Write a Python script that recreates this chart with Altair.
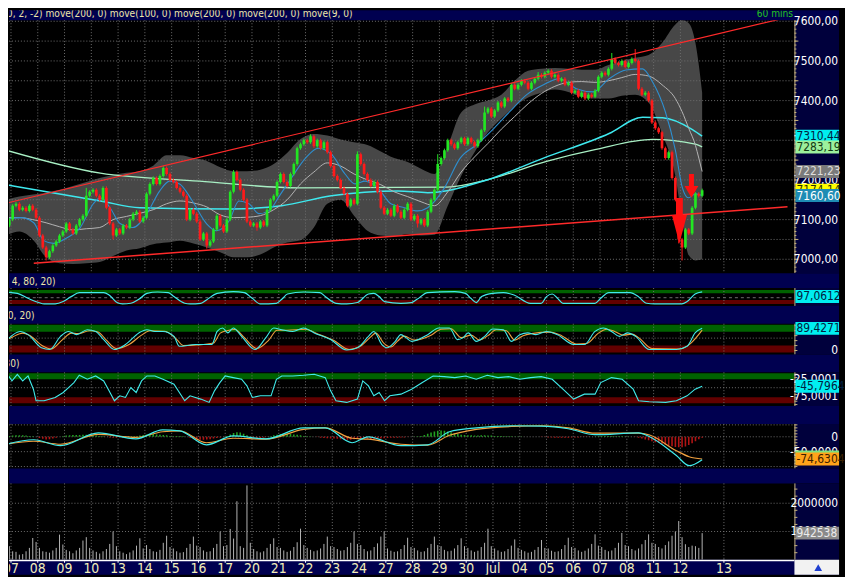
import altair as alt
import pandas as pd

# ------------------------------------------------------------------
# DATA  (x = bar index, 8 hourly bars per trading day, bar 0 = first bar of "07")
# ------------------------------------------------------------------
first_bar = -2
day_labels = ["07", "08", "09", "10", "13", "14", "15", "16", "17", "20", "21", "22", "23",
              "24", "27", "28", "29", "30", "Jul", "04", "05", "06", "07", "08", "11", "12", "13"]
day_pos = [-0.5, 7.5, 15.5, 23.5, 31.5, 39.5, 47.5, 55.5, 63.5, 71.5, 79.5, 87.5, 95.5,
           103.5, 111.5, 119.5, 127.5, 135.5, 143.5, 151.5, 159.5, 167.5, 175.5, 183.5,
           191.5, 199.5, 212.5]

first_open = 7075
close = [7085, 7100,
         7135, 7140, 7125, 7130, 7122, 7135, 7125, 7105,
         7060, 7030, 7005, 7020, 7035, 7045, 7060, 7070,
         7090, 7075, 7065, 7085, 7100, 7110, 7160, 7170,
         7175, 7160, 7150, 7180, 7130, 7090, 7060, 7075,
         7065, 7085, 7080, 7100, 7115, 7120, 7095, 7105,
         7165, 7190, 7205, 7190, 7210, 7230, 7215, 7200,
         7195, 7180, 7170, 7160, 7100, 7125, 7115, 7095,
         7050, 7065, 7035, 7045, 7075, 7110, 7085, 7070,
         7100, 7170, 7220, 7200, 7175, 7150, 7095, 7085,
         7090, 7080, 7095, 7085, 7125, 7150, 7160, 7195,
         7215, 7195, 7185, 7215, 7240, 7280, 7290, 7300,
         7295, 7310, 7285, 7300, 7280, 7295, 7270, 7235,
         7210, 7200, 7180, 7165, 7135, 7150, 7140, 7265,
         7240, 7215, 7200, 7185, 7195, 7170, 7130, 7115,
         7125, 7110, 7135, 7120, 7105, 7125, 7140, 7100,
         7110, 7090, 7100, 7085, 7120, 7150, 7175, 7240,
         7255, 7275, 7300, 7290, 7280, 7295, 7305, 7290,
         7305, 7295, 7285, 7300, 7325, 7370, 7380, 7360,
         7375, 7395, 7385, 7405, 7400, 7440, 7430, 7440,
         7450, 7445, 7430, 7445, 7455, 7465, 7460, 7470,
         7475, 7460, 7465, 7450, 7455, 7440, 7445, 7420,
         7425, 7410, 7420, 7405, 7415, 7410, 7425, 7460,
         7470, 7465, 7480, 7505, 7495, 7490, 7500, 7485,
         7495, 7505, 7500, 7430, 7415, 7420, 7400, 7345,
         7330, 7320, 7280, 7255, 7270, 7205, 7150, 7050,
         7030, 7075, 7065, 7130, 7165, 7160, 7174.14]

wick = 4
high_marks = [(22, 7180), (45, 7235), (66, 7225), (89, 7315), (103, 7272), (127, 7265),
              (141, 7385), (157, 7472), (179, 7520), (186, 7530)]
low_marks = [(10, 6997), (30, 7050), (58, 7027), (73, 7072), (121, 7080), (199, 7040), (200, 6997)]

volume_k = [710, 480,
            300, 280, 180, 200, 300, 420, 770, 630,
            420, 300, 280, 250, 330, 420, 890, 540,
            350, 300, 230, 330, 420, 680, 800, 420,
            330, 280, 220, 300, 380, 560, 1000, 480,
            300, 250, 200, 260, 330, 500, 760, 400,
            520, 380, 300, 280, 350, 600, 850, 450,
            400, 300, 250, 270, 420, 560, 820, 500,
            450, 330, 280, 300, 420, 560, 1000, 480,
            520, 1090, 750, 2070, 480, 420, 2630, 600,
            380, 300, 260, 300, 420, 560, 760, 450,
            420, 330, 280, 320, 450, 620, 1100, 520,
            420, 350, 300, 330, 400, 560, 820, 480,
            450, 380, 320, 340, 450, 600, 1000, 560,
            520, 380, 300, 330, 450, 580, 820, 1000,
            400, 320, 280, 300, 380, 520, 780, 450,
            420, 330, 280, 300, 420, 560, 820, 520,
            480, 350, 300, 320, 400, 520, 760, 480,
            420, 330, 280, 320, 450, 600, 1100, 480,
            400, 330, 280, 300, 380, 500, 720, 420,
            350, 300, 250, 280, 350, 450, 700, 420,
            400, 320, 280, 300, 380, 520, 780, 450,
            420, 330, 280, 320, 400, 560, 900, 500,
            450, 350, 300, 330, 420, 600, 950, 520,
            480, 380, 330, 400, 550, 700, 900, 600,
            560, 450, 400, 520, 650, 850, 1000, 1370,
            800, 550, 450, 500, 480, 420, 942.538]

macd_hist = [2, 3,
             4, 5, 5, 5, 4, 3, 2, 0,
             -4, -7, -9, -8, -6, -3, 0, 2,
             4, 5, 6, 6, 6, 7, 7, 6,
             5, 4, 3, 2, 0, -2, -3, -3,
             -2, -1, 0, 1, 2, 3, 4, 6,
             8, 9, 9, 8, 7, 6, 5, 3,
             2, 3, 3, 2, 0, -3, -6, -8,
             -10, -10, -9, -8, -6, -4, -2, 0,
             3, 8, 13, 15, 14, 10, 5, 1,
             -2, -4, -4, -3, -1, 2, 5, 7,
             9, 10, 10, 9, 8, 7, 5, 3,
             2, 1, 0, -1, -3, -4, -5, -6,
             -6, -7, -8, -9, -10, -10, -8, -6,
             -5, -6, -7, -8, -8, -7, -6, -5,
             -4, -3, -3, -3, -2, -2, -1, 0,
             1, 2, 3, 6, 10, 14, 18, 20,
             21, 20, 18, 15, 12, 9, 7, 6,
             5, 5, 4, 4, 5, 5, 4, 4,
             3, 3, 3, 2, 2, 2, 1, 1,
             1, 0, 0, 0, 0, 0, -1, -1,
             -2, -2, -3, -3, -3, -3, -3, -2,
             -2, -2, -1, -1, -1, 0, 1, 2,
             3, 3, 3, 3, 2, 2, 2, 1,
             1, 0, -1, -3, -6, -9, -12, -15,
             -18, -21, -24, -27, -30, -32, -34, -35,
             -35, -33, -28, -22, -15, -8, -3]

# Bollinger (20, 2, -2)
bb_u = [-2, 2, 6, 10, 14, 18, 22, 26, 30, 34, 38, 42, 46, 50, 54, 58, 62, 66, 70, 74, 78, 82,
        86, 90, 94, 98, 102, 106, 110, 114, 118, 122, 126, 130, 134, 138, 142, 146, 150, 154,
        158, 162, 166, 170, 174, 178, 182, 186, 190, 194, 198, 200, 202, 204, 205, 206]
bb_upper = [7150, 7158, 7163, 7168, 7175, 7185, 7195, 7205, 7212, 7218, 7222, 7236, 7262, 7262,
            7255, 7248, 7232, 7222, 7222, 7226, 7240, 7268, 7303, 7316, 7312, 7302, 7295, 7288,
            7272, 7255, 7245, 7228, 7215, 7285, 7370, 7390, 7400, 7415, 7450, 7475, 7480, 7482,
            7480, 7478, 7478, 7490, 7500, 7508, 7515, 7545, 7592, 7603, 7595, 7545, 7490, 7420]
bb_lower = [7060, 7070, 7050, 7005, 6990, 6988, 6990, 6993, 7008, 7022, 7028, 7038, 7042, 7047,
            7040, 7030, 7018, 7005, 7005, 7012, 7030, 7042, 7048, 7080, 7140, 7150, 7110, 7072,
            7060, 7058, 7064, 7060, 7062, 7135, 7210, 7270, 7320, 7355, 7385, 7408, 7420, 7428,
            7422, 7410, 7405, 7405, 7412, 7415, 7395, 7318, 7210, 7100, 7010, 6997, 6998, 7000]
bb_mid = [7105, 7105, 7100, 7092, 7082, 7074, 7077, 7080, 7100, 7108, 7116, 7125, 7140, 7147,
          7142, 7132, 7112, 7105, 7106, 7110, 7125, 7150, 7190, 7220, 7243, 7235, 7215, 7200,
          7188, 7170, 7158, 7145, 7135, 7170, 7220, 7258, 7292, 7328, 7360, 7392, 7418, 7436,
          7446, 7448, 7446, 7450, 7458, 7466, 7462, 7440, 7405, 7372, 7330, 7287, 7255, 7221.23]

ma9 = [(-2, 7102), (2.5, 7105), (6.3, 7092), (9.3, 7047), (12.2, 7040), (16.4, 7055), (20.2, 7080),
       (24.1, 7140), (26.2, 7155), (29.1, 7130), (32.1, 7090), (35.9, 7080), (40.1, 7115),
       (43.9, 7172), (46.9, 7197), (49.9, 7190), (53.7, 7147), (57.9, 7090), (60.8, 7072),
       (64.7, 7097), (67.6, 7147), (70.6, 7140), (73.6, 7115), (76.5, 7122), (80.1, 7165),
       (83.3, 7205), (87.5, 7255), (91.3, 7280), (95.2, 7265), (99.3, 7215), (102.3, 7190),
       (105.3, 7197), (109.1, 7180), (113.0, 7140), (117.1, 7130), (121.0, 7122), (124.0, 7130),
       (129.0, 7180), (133.7, 7255), (138.8, 7290), (143.8, 7330), (148.5, 7372), (153.6, 7415),
       (158.6, 7440), (163.3, 7455), (168.4, 7430), (173.4, 7422), (178.2, 7455), (183.2, 7477),
       (188.2, 7480), (191.2, 7447), (195.0, 7372), (198.0, 7275), (200.1, 7180), (201.9, 7155),
       (204.0, 7165), (206.0, 7160.6)]
ma100 = [(-2, 7188), (26.2, 7147), (38.0, 7130), (65.6, 7127), (80.4, 7135), (95.2, 7160),
         (115.1, 7172), (124.0, 7168), (141.7, 7200), (158.6, 7255), (178.2, 7317), (188.2, 7358),
         (194.2, 7357), (203.1, 7327), (206.0, 7310.44)]
ma200 = [(-2, 7275), (26.2, 7217), (55.8, 7197), (85.4, 7180), (129.9, 7182), (141.7, 7200),
         (159.5, 7247), (174.3, 7277), (191.2, 7302), (204.0, 7290), (206.0, 7283.19)]

trend_upper = [(-1.4, 7142.5), (229.1, 7605)]
trend_lower = [(6.3, 6990), (231.5, 7132.5)]
sell_big = [(199.2, 7097)]
sell_small = [(202.8, 7185)]

osc1 = [(-3.5, 96), (1.4, 85), (4.6, 45), (7.8, 11), (9.4, 0), (12.7, 0), (15.1, 19), (17.5, 59),
        (19.9, 91), (27.2, 91), (28.8, 72), (31.2, 11), (32.8, 0), (35.3, 5), (37.7, 37),
        (40.1, 85), (43.3, 96), (46.5, 91), (48.2, 59), (51.4, 5), (53.0, 0), (56.2, 5),
        (57.9, 32), (61.1, 85), (65.9, 99), (69.2, 91), (71.6, 45), (74.0, 0), (78.8, 5),
        (80.4, 37), (82.1, 80), (86.9, 96), (91.8, 91), (93.4, 59), (96.6, 5), (99.8, 0),
        (103.0, 11), (106.3, 80), (107.9, 85), (109.5, 59), (111.1, 19), (116.0, 5), (119.2, 11),
        (120.8, 37), (124.0, 91), (132.1, 99), (135.3, 85), (136.9, 45), (138.5, 11), (140.1, 59),
        (143.4, 85), (146.6, 91), (149.8, 72), (154.7, 5), (157.9, 5), (159.5, 59), (161.2, 80),
        (162.8, 45), (164.4, 5), (174.0, 5), (175.7, 45), (178.1, 91), (184.5, 91), (186.9, 59),
        (189.4, 5), (191.8, 0), (199.9, 0), (201.5, 19), (203.9, 80), (206.0, 97.06)]

stoch_k = [(-2, 37), (-1.0, 51), (2.2, 77), (4.6, 64), (8.6, 11), (11.1, 4), (14.3, 57), (16.7, 77),
           (19.1, 64), (22.3, 84), (24.8, 77), (27.2, 44), (30.4, 4), (33.7, 24), (37.7, 71),
           (40.1, 84), (42.5, 77), (44.9, 77), (48.2, 57), (49.8, 17), (54.6, 24), (59.5, 24),
           (61.1, 77), (62.7, 91), (64.3, 71), (65.9, 91), (68.4, 57), (72.4, 4), (75.6, 51),
           (78.0, 91), (80.4, 84), (83.7, 77), (86.9, 91), (90.1, 71), (95.0, 44), (99.8, 2),
           (103.0, 11), (106.3, 57), (107.9, 77), (110.3, 24), (111.9, 11), (114.3, 37), (116.0, 64),
           (117.6, 51), (119.2, 37), (124.0, 64), (127.3, 91), (130.5, 91), (132.9, 44), (134.5, 51),
           (136.1, 71), (138.5, 37), (141.0, 57), (143.4, 87), (146.6, 84), (149.0, 37), (151.5, 64),
           (153.9, 71), (156.3, 64), (159.5, 77), (162.8, 64), (167.6, 24), (170.8, 24), (174.0, 77),
           (176.5, 91), (178.9, 77), (181.3, 57), (183.7, 71), (186.1, 57), (190.2, 4), (198.3, 4),
           (201.5, 17), (203.9, 71), (206.0, 89.43)]
stoch_d = [(-2, 42), (0, 55), (3, 70), (5, 62), (9, 18), (11.5, 6), (15, 45), (17.5, 70), (19.5, 68),
           (23, 80), (25.5, 75), (28, 42), (31, 8), (34.5, 22), (38.5, 62), (41, 80), (45.5, 78),
           (49, 45), (51, 20), (55, 22), (60, 30), (62, 70), (64, 80), (66.5, 85), (69, 55), (73, 8),
           (76.5, 42), (79, 82), (82, 82), (87.5, 86), (91, 68), (96, 40), (100.5, 4), (104, 18),
           (107, 55), (108.5, 70), (111, 28), (113, 14), (115, 38), (117, 58), (120, 42), (125, 62),
           (128, 86), (131, 88), (134, 52), (137, 62), (139.5, 42), (142, 60), (144.5, 84),
           (147.5, 80), (150, 42), (152.5, 60), (155, 68), (160.5, 74), (164, 60), (168.5, 26),
           (171.5, 28), (175, 70), (177.5, 86), (180, 76), (182.5, 62), (185, 66), (187, 52),
           (191, 8), (199, 6), (202.5, 28), (206, 82)]

will_r = [(-3.5, -34.8), (-1.9, -5.4), (-0.2, -29.9), (1.4, -10.3), (3.0, -29.9), (4.6, -15.2),
          (6.2, -54.4), (7.0, -88.7), (9.4, -88.7), (12.7, -78.9), (15.1, -64.2), (16.7, -49.5),
          (18.3, -34.8), (19.9, -13.2), (22.3, -25), (24.8, -15.2), (27.2, -29.9), (28.8, -59.3),
          (30.4, -88.7), (32.0, -74), (33.7, -78.9), (35.3, -49.5), (36.9, -64.2), (38.5, -29.9),
          (40.1, -15.2), (42.5, -15.2), (44.9, -25), (48.2, -39.7), (51.4, -88.7), (53.0, -74),
          (54.6, -78.9), (56.2, -83.8), (58.7, -93.6), (60.3, -59.3), (61.9, -34.8), (63.5, -15.2),
          (65.9, -20.1), (68.4, -25), (70.0, -44.6), (71.6, -78.9), (74.0, -74), (77.2, -74),
          (78.8, -25), (80.4, -15.2), (83.7, -15.2), (86.9, -13.2), (90.1, -10.3), (93.4, -20.1),
          (95.0, -59.3), (96.6, -88.7), (99.8, -93.6), (103.0, -83.8), (104.6, -29.9),
          (106.3, -44.6), (107.9, -74), (109.5, -64.2), (111.1, -88.7), (112.7, -74), (116.0, -69.1),
          (119.2, -54.4), (122.4, -34.8), (125.6, -15.2), (128.9, -17.2), (132.1, -20.1),
          (135.3, -15.2), (138.5, -25), (141.8, -13.2), (145.0, -20.1), (148.2, -17.2),
          (151.5, -25), (154.7, -20.1), (157.9, -17.2), (161.2, -25), (164.4, -54.4),
          (167.6, -83.8), (170.8, -69.1), (174.0, -69.1), (175.7, -34.8), (178.9, -20.1),
          (182.1, -25), (185.4, -54.4), (187.0, -88.7), (190.2, -91.7), (195.1, -93.6),
          (198.3, -88.7), (201.5, -74), (203.9, -54.4), (206.0, -45.8)]

macd_u = [-3.5, 6.3, 14.3, 25.6, 36.8, 44.8, 49.9, 57.9, 65.9, 75.7, 86.9, 93.4, 101.4, 106.2,
          116.0, 124.0, 130.5, 138.5, 149.7, 158.0, 166.0, 174.0, 187.0, 190.3, 198.3, 202.1, 206.0]
macd_line = [-30, -10, -30, 13, -7, 23, 20, -27, 3, -7, 30, 30, -20, 0, -30, -27, 17, 30, 37, 36,
             27, 7, 13, 0, -63, -97, -77]
macd_signal = [-28, -15, -25, 8, -2, 17, 20, -20, -5, -8, 25, 30, -5, -8, -25, -28, 5, 25, 35, 37,
               30, 12, 12, 6, -47, -67, -74.63]

main_levels = [7000, 7050, 7100, 7150, 7200, 7250, 7300, 7350, 7400, 7450, 7500, 7550, 7600]
main_labels = [7000, 7100, 7200, 7300, 7400, 7500, 7600]

# ------------------------------------------------------------------
# STYLE / LAYOUT
# ------------------------------------------------------------------
FONT = "Liberation Sans Narrow, Arial Narrow, DejaVu Sans Condensed, Liberation Sans, sans-serif"
W = 837          # whole panel width incl. price column
PW = 792         # chart area width
XD = [-1.096, 246.9]
NAVY = "#000050"
COLBG = "#00003c"
TAN = "#c8b47a"
GRID = "#6e6e6e"
KHAKI = "#eee6a8"
UPC = "#22e622"
DNC = "#ff1a1a"
BAND = "#474747"
CYAN = "#40ecec"
STRIP_FS = 10.2

H = dict(top=10, main=255, sA=15, p2=18, sB=18, p3=31, sC=18, p4=34, sD=18, p5=45, sE=15,
         p6=77, ax=15)
MD = [6965, 7602.5]
P2D = [-16, 128]
P3D = [-16, 108]
P4D = [-104.4, -4.4]
P5D = [-106.7, 43.3]
P6D = [0, 2701754]

one = pd.DataFrame({"k": [0]})


def X(f="u"):
    return alt.X(f"{f}:Q", scale=alt.Scale(domain=XD, nice=False, zero=False), axis=None)


def Y(f, dom):
    return alt.Y(f"{f}:Q", scale=alt.Scale(domain=dom, nice=False, zero=False), axis=None)


def pts(p):
    return pd.DataFrame({"u": [a for a, b in p], "v": [b for a, b in p]})


def bg(h, color):
    return alt.Chart(one).mark_rect(color=color).encode(
        x=alt.value(0), x2=alt.value(W), y=alt.value(0), y2=alt.value(h))


def strip(h, text=None, x0=-9):
    layers = [bg(h, NAVY)]
    if text:
        layers.append(alt.Chart(pd.DataFrame({"t": [text]})).mark_text(
            align="left", baseline="middle", font=FONT, fontSize=STRIP_FS, color=KHAKI, clip=True
        ).encode(x=alt.value(x0), y=alt.value(h / 2 + 1), text="t:N"))
    return alt.layer(*layers).properties(width=W, height=h)


def vgrid():
    return alt.Chart(pd.DataFrame({"u": day_pos})).mark_rule(
        color=GRID, strokeDash=[1, 2], strokeWidth=1).encode(x=X())


def hgrid(levels, dom, dash=(1, 2)):
    return alt.Chart(pd.DataFrame({"lv": levels})).mark_rule(
        color=GRID, strokeDash=list(dash), strokeWidth=1).encode(
        y=Y("lv", dom), x=alt.value(0), x2=alt.value(PW))


def column(h):
    return [alt.Chart(one).mark_rect(color=COLBG).encode(
                x=alt.value(PW), x2=alt.value(W), y=alt.value(0), y2=alt.value(h)),
            alt.Chart(one).mark_rule(color=TAN, strokeWidth=1).encode(
                x=alt.value(PW + 0.5), y=alt.value(0), y2=alt.value(h))]


def ticks(levels, dom, size=3):
    return alt.Chart(pd.DataFrame({"lv": levels})).mark_rule(color=TAN).encode(
        y=Y("lv", dom), x=alt.value(PW), x2=alt.value(PW + size))


def labels(vals, texts, dom, color="#ffffff"):
    return alt.Chart(pd.DataFrame({"v": vals, "t": texts})).mark_text(
        align="right", baseline="middle", font=FONT, fontSize=12, color=color).encode(
        x=alt.value(W - 1), y=Y("v", dom), text="t:N")


def vbox(v, txt, bgc, fgc, dom=None, pix=None):
    d = pd.DataFrame({"v": [v], "t": [txt]})
    if pix is None:
        r = alt.Chart(d).mark_rect(color=bgc, yOffset=-6.5, y2Offset=6.5).encode(
            x=alt.value(PW + 1), x2=alt.value(W), y=Y("v", dom), y2=alt.Y2("v"))
        t = alt.Chart(d).mark_text(align="left", baseline="middle", font=FONT, fontSize=12,
                                   color=fgc).encode(x=alt.value(PW + 2), y=Y("v", dom), text="t:N")
    else:
        r = alt.Chart(d).mark_rect(color=bgc).encode(
            x=alt.value(PW + 1), x2=alt.value(W), y=alt.value(pix - 6.5), y2=alt.value(pix + 6.5))
        t = alt.Chart(d).mark_text(align="left", baseline="middle", font=FONT, fontSize=12,
                                   color=fgc).encode(x=alt.value(PW + 2), y=alt.value(pix), text="t:N")
    return [r, t]


def line(p, dom, color, width=1.2, interp="monotone"):
    return alt.Chart(pts(p)).mark_line(color=color, strokeWidth=width, interpolate=interp,
                                       clip=True).encode(x=X(), y=Y("v", dom))


def fmt2(v):
    return f"{v:.2f}".replace(".", ",")


# ------------------------------------------------------------------
# candles
# ------------------------------------------------------------------
bars = list(range(first_bar, first_bar + len(close)))
opens = [first_open] + close[:-1]
hmap = dict(high_marks)
lmap = dict(low_marks)
cdf = pd.DataFrame({"u": bars, "op": opens, "cl": close})
cdf["hi"] = [hmap.get(b, max(o, c) + wick) for b, o, c in zip(bars, opens, close)]
cdf["lo"] = [lmap.get(b, min(o, c) - wick) for b, o, c in zip(bars, opens, close)]
cdf["col"] = [UPC if c >= o else DNC for o, c in zip(opens, close)]
cdf["x0"] = cdf["u"] - 0.4
cdf["x1"] = cdf["u"] + 0.4

bbdf = pd.DataFrame({"u": bb_u, "up": bb_upper, "lo": bb_lower, "mid": bb_mid})

main_layers = [
    alt.Chart(bbdf).mark_area(color=BAND, interpolate="monotone", clip=True).encode(
        x=X(), y=Y("up", MD), y2=alt.Y2("lo")),
    vgrid(),
    hgrid(main_levels, MD),
    line(ma200, MD, "#a8f0c4", 1.3),
    line(ma100, MD, "#3ee8ee", 1.5),
    alt.Chart(bbdf).mark_line(color="#b4b4b4", strokeWidth=1, interpolate="monotone",
                              clip=True).encode(x=X(), y=Y("mid", MD)),
    line(ma9, MD, "#2d8fd0", 1.1),
    alt.Chart(cdf).mark_rule(strokeWidth=1, clip=True).encode(
        x=X(), y=Y("lo", MD), y2=alt.Y2("hi"), color=alt.Color("col:N", scale=None)),
    alt.Chart(cdf).mark_rect(clip=True).encode(
        x=X("x0"), x2=alt.X2("x1"), y=Y("op", MD), y2=alt.Y2("cl"),
        color=alt.Color("col:N", scale=None)),
    line(trend_upper, MD, "#ff2a2a", 1.2, "linear"),
    line(trend_lower, MD, "#ff2a2a", 1.5, "linear"),
    alt.Chart(pts(sell_big)).mark_point(
        shape="M-0.15,-1 L0.15,-1 L0.15,-0.25 L0.33,-0.25 L0,1 L-0.33,-0.25 L-0.15,-0.25 Z",
        size=2116, filled=True, opacity=1, color="#ff1010", strokeWidth=0, clip=True).encode(
        x=X(), y=Y("v", MD)),
    alt.Chart(pts(sell_small)).mark_point(
        shape="M-0.21,-1 L0.21,-1 L0.21,0 L0.58,0 L0,1 L-0.58,0 L-0.21,0 Z",
        size=576, filled=True, opacity=1, color="#ff1010", strokeWidth=0, clip=True).encode(
        x=X(), y=Y("v", MD)),
]
main_layers += column(H["main"])
main_layers.append(ticks(list(range(6970, 7601, 10)), MD, 2))
main_layers.append(ticks(main_levels, MD, 4))
main_layers.append(labels(main_labels, [fmt2(v) for v in main_labels], MD))
main_layers += vbox(7310.44, "7310,44", "#00eef0", "#002040", MD)
main_layers += vbox(7283.19, "7283,19", "#9cf09c", "#123a12", MD)
main_layers += vbox(7221.23, "7221,23", "#7a7a7a", "#dedede", MD)
main_layers += vbox(7174.14, "7174,14", "#ffff00", "#303000", MD)
main_layers += vbox(7160.60, "7160,60", "#1e8cb4", "#ffffff", MD)
main = alt.layer(*main_layers).properties(width=W, height=H["main"])


def bands(dom, green, red):
    d = pd.DataFrame({"lo": [green[0], red[0]], "hi": [green[1], red[1]],
                      "col": ["#006200", "#620000"]})
    return alt.Chart(d).mark_rect().encode(
        x=alt.value(0), x2=alt.value(PW), y=Y("lo", dom), y2=alt.Y2("hi"),
        color=alt.Color("col:N", scale=None))


# P2
p2_layers = [bands(P2D, (85, 112), (0, 32)), vgrid(), hgrid([50], P2D, (3, 3)),
             line(osc1, P2D, CYAN, 1.2)]
p2_layers += column(H["p2"])
p2_layers += vbox(97.06, "97,0612", "#00eef0", "#002040", pix=8.5)
p2 = alt.layer(*p2_layers).properties(width=W, height=H["p2"])

# P3
p3_layers = [bands(P3D, (76, 104), (-8, 20)), vgrid(), hgrid([50], P3D),
             line(stoch_d, P3D, "#f0a040", 1.1), line(stoch_k, P3D, CYAN, 1.1)]
p3_layers += column(H["p3"])
p3_layers.append(ticks([0, 20, 40, 60, 80, 100], P3D, 3))
p3_layers.append(labels([0], ["0"], P3D))
p3_layers += vbox(89.43, "89,4271", "#00eef0", "#002040", P3D)
p3 = alt.layer(*p3_layers).properties(width=W, height=H["p3"])

# P4
p4_layers = [bands(P4D, (-25, -7), (-96, -78)), vgrid(), hgrid([-50], P4D),
             line(will_r, P4D, CYAN, 1.1, "linear")]
p4_layers += column(H["p4"])
p4_layers.append(ticks([-10, -20, -30, -40, -50, -60, -70, -80, -90, -100], P4D, 3))
p4_layers.append(labels([-25, -75], ["-25,0001", "-75,0001"], P4D))
p4_layers += vbox(-45.80, "-45,7964", "#00eef0", "#002040", P4D)
p4 = alt.layer(*p4_layers).properties(width=W, height=H["p4"])

# P5 (MACD)
hdf = pd.DataFrame({"u": bars, "h": macd_hist, "z": 0})
hdf["col"] = ["#22a022" if h >= 0 else "#b01414" for h in macd_hist]
mdf = pd.DataFrame({"u": macd_u, "m": macd_line, "s": macd_signal})
p5_layers = [vgrid(), hgrid([40, 0, -50, -100], P5D),
             alt.Chart(hdf).mark_rule(strokeWidth=1.6, clip=True).encode(
                 x=X(), y=Y("z", P5D), y2=alt.Y2("h"), color=alt.Color("col:N", scale=None)),
             alt.Chart(mdf).mark_line(color="#f0a040", strokeWidth=1.2, interpolate="monotone",
                                      clip=True).encode(x=X(), y=Y("s", P5D)),
             alt.Chart(mdf).mark_line(color=CYAN, strokeWidth=1.2, interpolate="monotone",
                                      clip=True).encode(x=X(), y=Y("m", P5D))]
p5_layers += column(H["p5"])
p5_layers.append(ticks([40, 30, 20, 10, 0, -10, -20, -30, -40, -50, -60, -70, -80, -90, -100], P5D, 3))
p5_layers.append(labels([0, -50], ["0", "-50,0000"], P5D))
p5_layers += vbox(-68.0, "", "#7ee07e", "#123a12", P5D)
p5_layers += vbox(-74.63, "-74,6304", "#ffa31a", "#3a2000", P5D)
p5 = alt.layer(*p5_layers).properties(width=W, height=H["p5"])

# P6 (volume)
vdf = pd.DataFrame({"u": bars, "vol": [v * 1000 for v in volume_k], "z": 0})
p6_layers = [vgrid(), hgrid([1000000, 2000000], P6D),
             alt.Chart(vdf).mark_rule(color="#b4b4b4", strokeWidth=1, clip=True).encode(
                 x=X(), y=Y("z", P6D), y2=alt.Y2("vol"))]
p6_layers += column(H["p6"])
p6_layers.append(ticks([250000 * i for i in range(1, 11)], P6D, 3))
p6_layers.append(labels([2000000, 1000000], ["2000000", "1000000"], P6D))
p6_layers += vbox(942538, "942538", "#8a8a8a", "#ececec", P6D)
p6 = alt.layer(*p6_layers).properties(width=W, height=H["p6"])

# date axis strip
ddf = pd.DataFrame({"u": day_pos, "t": day_labels})
ax_layers = [bg(H["ax"], NAVY),
             alt.Chart(one).mark_rule(color="#ffffff", strokeWidth=1.5).encode(
                 x=alt.value(0), x2=alt.value(PW), y=alt.value(0.75)),
             alt.Chart(ddf).mark_rule(color="#ffffff").encode(x=X(), y=alt.value(0), y2=alt.value(3)),
             alt.Chart(ddf).mark_text(font=FONT, fontSize=14, color="#f2eeb8", baseline="middle",
                                      align="center", clip=True).encode(
                 x=X(), y=alt.value(9.5), text="t:N"),
             alt.Chart(one).mark_rect(color="#f2f2f2").encode(
                 x=alt.value(PW), x2=alt.value(W), y=alt.value(0), y2=alt.value(H["ax"])),
             alt.Chart(one).mark_point(shape="triangle-up", size=60, filled=True, color="#1f3fd0",
                                       opacity=1).encode(x=alt.value(PW + 24), y=alt.value(8))]
axis_strip = alt.layer(*ax_layers).properties(width=W, height=H["ax"])

# top strip
top = alt.layer(
    bg(H["top"], NAVY),
    alt.Chart(pd.DataFrame({"t": ["20, 2, -2) move(200, 0) move(100, 0) move(200, 0) move(200, 0) move(9, 0)"]})
              ).mark_text(align="left", baseline="middle", font=FONT, fontSize=STRIP_FS, color=KHAKI,
                          clip=True).encode(x=alt.value(-8), y=alt.value(4), text="t:N"),
    alt.Chart(pd.DataFrame({"t": ["60 mins"]})).mark_text(
        align="left", baseline="middle", font=FONT, fontSize=STRIP_FS, color="#22c422", clip=True
    ).encode(x=alt.value(754), y=alt.value(4), text="t:N"),
).properties(width=W, height=H["top"])

chart = alt.vconcat(
    top, main,
    strip(H["sA"], "3, 4, 80, 20)", -9), p2,
    strip(H["sB"], "80, 20)", -7), p3,
    strip(H["sC"], "-80)", -8), p4,
    strip(H["sD"], ")", -6), p5,
    strip(H["sE"]), p6,
    axis_strip,
    spacing=0, bounds="flush",
).properties(padding=0, background="#000000").configure_view(strokeWidth=0)

chart.save("out.html", embed_options={"renderer": "svg", "actions": False})
